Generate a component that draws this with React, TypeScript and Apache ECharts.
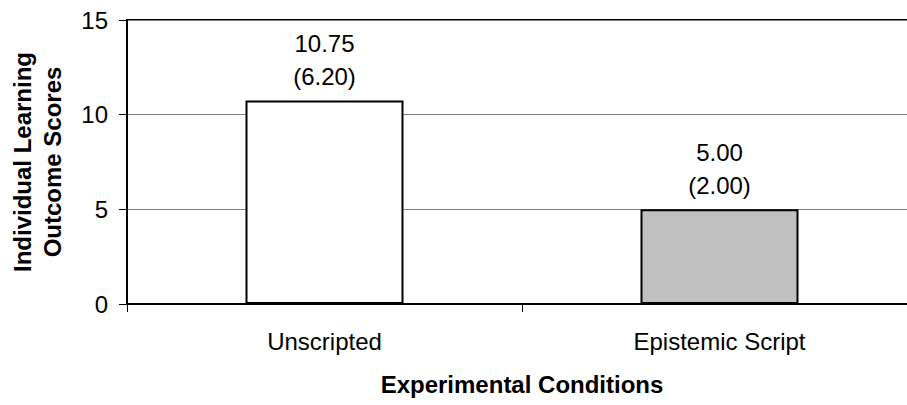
import React, { useEffect, useRef } from "react";
import * as echarts from "echarts";

const categories = ["Unscripted", "Epistemic Script"];
const means = [10.75, 5.0];
const sds = [6.2, 2.0];
const barColors = ["#FFFFFF", "#C0C0C0"];
const yTicks = { min: 0, max: 15, interval: 5 };

const FONT = "'Liberation Sans', Arial, Helvetica, sans-serif";

export default function App() {
  const ref = useRef<HTMLDivElement>(null);
  useEffect(() => {
    if (!ref.current) return;
    const chart = echarts.init(ref.current, null, { renderer: "svg" });
    chart.setOption({
      animation: false,
      backgroundColor: "#FFFFFF",
      grid: {
        left: 127,
        top: 20,
        width: 790,
        height: 284,
        containLabel: false,
        outerBoundsMode: "none",
        show: true,
        borderColor: "#000000",
        borderWidth: 2,
        backgroundColor: "transparent",
      },
      xAxis: {
        type: "category",
        data: categories,
        name: "Experimental Conditions",
        nameLocation: "middle",
        nameGap: 68,
        nameTextStyle: { fontFamily: FONT, fontSize: 24, fontWeight: "bold", color: "#000" },
        axisLine: { show: true, lineStyle: { color: "#000", width: 2 } },
        axisTick: { show: true, length: 8, lineStyle: { color: "#000", width: 1 } },
        axisLabel: { fontFamily: FONT, fontSize: 24, color: "#000", margin: 25 },
      },
      yAxis: {
        type: "value",
        min: yTicks.min,
        max: yTicks.max,
        interval: yTicks.interval,
        name: "Individual Learning\nOutcome Scores",
        nameLocation: "middle",
        nameRotate: 90,
        nameGap: 60,
        nameTextStyle: {
          fontFamily: FONT,
          fontSize: 24,
          fontWeight: "bold",
          color: "#000",
          lineHeight: 30,
          align: "center",
        },
        axisLine: { show: true, lineStyle: { color: "#000", width: 2 } },
        axisTick: { show: true, length: 8, lineStyle: { color: "#000", width: 1 } },
        axisLabel: { fontFamily: FONT, fontSize: 24, color: "#000", margin: 19 },
        splitLine: { show: true, lineStyle: { color: "#808080", width: 1 } },
      },
      series: [
        {
          type: "bar",
          barWidth: "40%",
          data: means.map((v, i) => ({
            value: v,
            itemStyle: { color: barColors[i], borderColor: "#000", borderWidth: 2 },
          })),
          label: {
            show: true,
            position: "top",
            distance: 7,
            fontFamily: FONT,
            fontSize: 24,
            color: "#000",
            lineHeight: 33,
            align: "center",
            formatter: (p: any) =>
              means[p.dataIndex].toFixed(2) + "\n(" + sds[p.dataIndex].toFixed(2) + ")",
          },
        },
      ],
    });
    return () => chart.dispose();
  }, []);
  return (
    <div
      ref={ref}
      style={{ position: "absolute", left: 0, top: 0, width: 907, height: 405 }}
    />
  );
}
